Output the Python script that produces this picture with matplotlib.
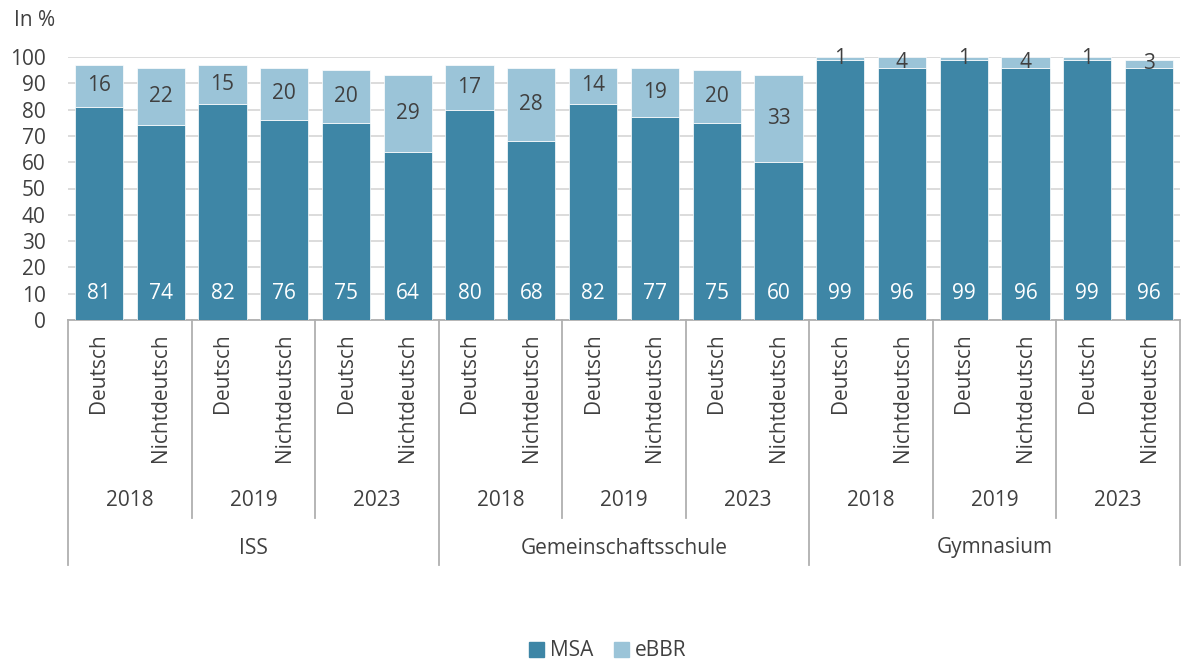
import matplotlib
matplotlib.use("Agg")
import matplotlib.pyplot as plt
from matplotlib import transforms
from matplotlib.patches import Rectangle
from matplotlib.lines import Line2D

schools = ["ISS", "Gemeinschaftsschule", "Gymnasium"]
years = ["2018", "2019", "2023"]
langs = ["Deutsch", "Nichtdeutsch"]

msa = [81, 74, 82, 76, 75, 64,
       80, 68, 82, 77, 75, 60,
       99, 96, 99, 96, 99, 96]
ebbr = [16, 22, 15, 20, 20, 29,
        17, 28, 14, 19, 20, 33,
        1, 4, 1, 4, 1, 3]

plt.rcParams['font.family'] = ['Open Sans', 'DejaVu Sans']
FS = 15
TXT = '#404040'
C_MSA = '#3E86A6'
C_EBBR = '#9BC4D8'
GRID = '#D9D9D9'
SEP = '#B0B0B0'

W, H = 1181, 662
fig = plt.figure(figsize=(W / 100, H / 100), dpi=100)
ax = fig.add_axes([68 / W, 1 - 320 / H, (1180 - 68) / W, (320 - 57) / H])

n = len(msa)
x = list(range(n))
ax.bar(x, msa, width=0.78, color=C_MSA, edgecolor='white', linewidth=0.5, zorder=3, label='MSA')
ax.bar(x, ebbr, width=0.78, bottom=msa, color=C_EBBR, edgecolor='white', linewidth=0.5, zorder=3, label='eBBR')

ax.set_xlim(-0.5, n - 0.5)
ax.set_ylim(0, 100)
ax.set_yticks(range(0, 101, 10))
ax.tick_params(axis='y', length=0, labelsize=FS, labelcolor=TXT, pad=16)
ax.tick_params(axis='x', length=0, labelbottom=False)
ax.yaxis.grid(True, color=GRID, linewidth=1.3, zorder=0)
ax.set_axisbelow(True)
for s in ['top', 'right', 'left']:
    ax.spines[s].set_visible(False)
ax.spines['bottom'].set_color(SEP)
ax.spines['bottom'].set_linewidth(1.3)

for i in range(n):
    ax.text(i, 10, str(msa[i]), ha='center', va='center', color='white', fontsize=FS, zorder=5)
    ax.text(i, msa[i] + ebbr[i] / 2, str(ebbr[i]), ha='center', va='center', color=TXT, fontsize=FS, zorder=5)

tr = transforms.blended_transform_factory(ax.transData, fig.transFigure)
def fy(p):
    return 1 - p / H

# category labels
for i in range(n):
    ax.text(i, fy(333), langs[i % 2], transform=tr, rotation=90, ha='center', va='top',
            color=TXT, fontsize=FS)
# year labels
for g in range(9):
    ax.text(2 * g + 0.5, fy(501), years[g % 3], transform=tr, ha='center', va='center',
            color=TXT, fontsize=FS)
# school labels
for s in range(3):
    ax.text(6 * s + 2.5, fy(548), schools[s], transform=tr, ha='center', va='center',
            color=TXT, fontsize=FS)
# separators
for g in range(10):
    xb = 2 * g - 0.5
    bottom = 565 if g % 3 == 0 else 518
    fig.add_artist(Line2D([xb, xb], [fy(320), fy(bottom)], transform=tr, color=SEP,
                          linewidth=1.3, clip_on=False))

fig.text(14 / W, fy(21), "In %", ha='left', va='center', color=TXT, fontsize=FS)

leg = fig.legend(handles=[Rectangle((0, 0), 1, 1, color=C_MSA), Rectangle((0, 0), 1, 1, color=C_EBBR)],
                 labels=['MSA', 'eBBR'], loc='center', bbox_to_anchor=(608 / W, fy(651)),
                 ncol=2, frameon=False, fontsize=FS, handlelength=0.7, handleheight=0.7,
                 handletextpad=0.3, columnspacing=1.0, labelcolor=TXT)

fig.savefig('out.png', dpi=100)
